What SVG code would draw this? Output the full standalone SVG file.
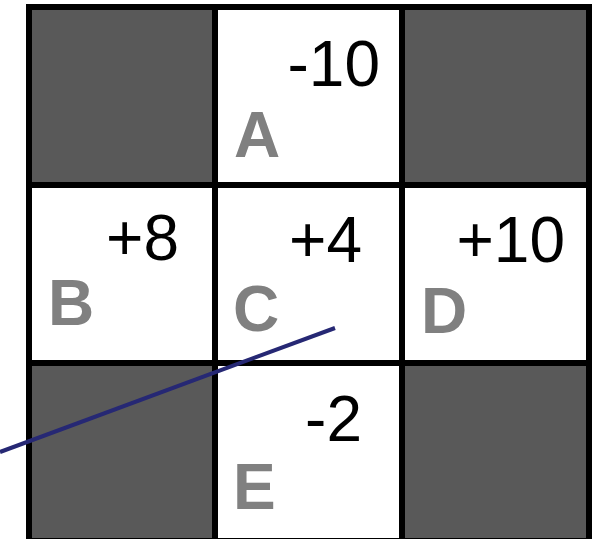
<svg xmlns="http://www.w3.org/2000/svg" width="600" height="539" viewBox="0 0 600 539">
<style>
.dark{fill:#595959}
.light{fill:#ffffff}
.grid{stroke:#000;stroke-width:6;fill:none}
.num{font-family:"Liberation Sans",Arial,sans-serif;font-size:64px;fill:#000;text-anchor:end}
.lab{font-family:"Liberation Sans",Arial,sans-serif;font-size:64px;font-weight:bold;fill:#808080}
</style>
<rect x="0" y="0" width="600" height="539" fill="#fff"/>
<g id="cells">
<rect class="dark" x="29" y="7" width="186" height="178"/>
<rect class="dark" x="402" y="7" width="187" height="178"/>
<rect class="dark" x="29" y="363" width="186" height="178"/>
<rect class="dark" x="402" y="363" width="187" height="178"/>
</g>
<g id="nodeA"><rect class="light" x="215" y="7" width="187" height="178"/><text class="num" x="380" y="86">-10</text><text class="lab" x="234" y="157">A</text></g>
<g id="nodeB"><rect class="light" x="29" y="185" width="186" height="178"/><text class="num" x="179" y="260">+8</text><text class="lab" x="48" y="325">B</text></g>
<g id="nodeC"><rect class="light" x="215" y="185" width="187" height="178"/><text class="num" x="362" y="262">+4</text><text class="lab" x="233" y="331">C</text></g>
<g id="nodeD"><rect class="light" x="402" y="185" width="187" height="178"/><text class="num" x="565" y="262">+10</text><text class="lab" x="421" y="333">D</text></g>
<g id="nodeE"><rect class="light" x="215" y="363" width="187" height="178"/><text class="num" x="362" y="441">-2</text><text class="lab" x="233" y="509">E</text></g>
<g id="gridlines" class="grid">
<rect x="29" y="7" width="560" height="534"/>
<line x1="215" y1="7" x2="215" y2="541"/>
<line x1="402" y1="7" x2="402" y2="541"/>
<line x1="29" y1="185" x2="589" y2="185"/>
<line x1="29" y1="363" x2="589" y2="363"/>
</g>
<g id="connectors">
<line x1="0" y1="452" x2="335" y2="328" stroke="#262874" stroke-width="4"/>
</g>
</svg>
